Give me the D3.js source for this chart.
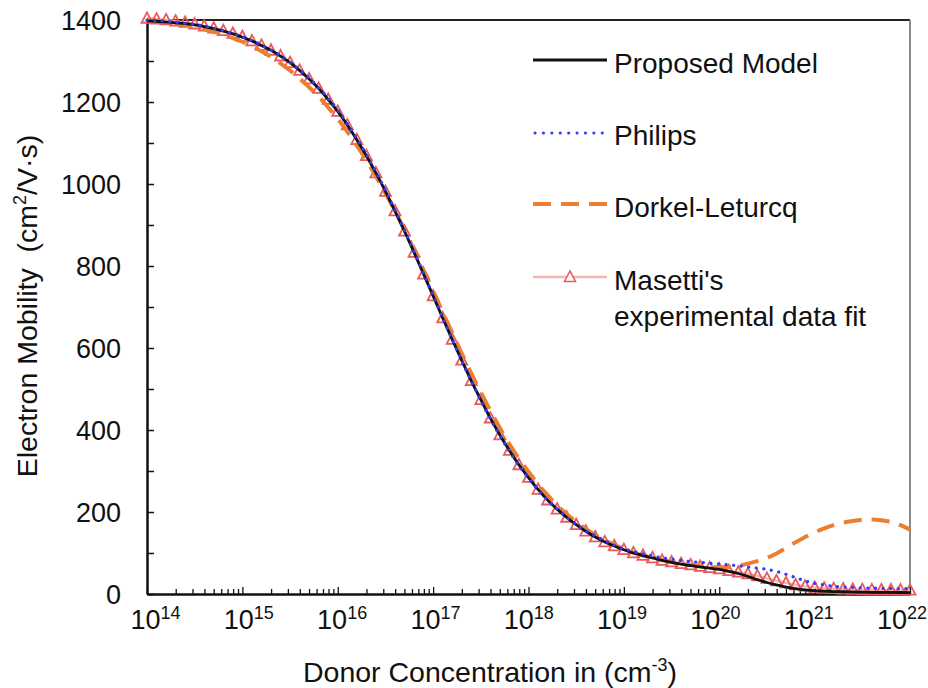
<!DOCTYPE html>
<html><head><meta charset="utf-8">
<script src="https://cdn.jsdelivr.net/npm/d3@7"></script>
<style>
html,body{margin:0;padding:0;background:#fff;}
svg{display:block;font-family:"Liberation Sans",Arial,Helvetica,sans-serif;}
</style></head>
<body><svg id="c" width="928" height="688"></svg>
<script>
// log10 of donor concentration (cm^-3)
const exps = [14.0,14.1,14.2,14.3,14.4,14.5,14.6,14.7,14.8,14.9,
15.0,15.1,15.2,15.3,15.4,15.5,15.6,15.7,15.8,15.9,
16.0,16.1,16.2,16.3,16.4,16.5,16.6,16.7,16.8,16.9,
17.0,17.1,17.2,17.3,17.4,17.5,17.6,17.7,17.8,17.9,
18.0,18.1,18.2,18.3,18.4,18.5,18.6,18.7,18.8,18.9,
19.0,19.1,19.2,19.3,19.4,19.5,19.6,19.7,19.8,19.9,
20.0,20.1,20.2,20.3,20.4,20.5,20.6,20.7,20.8,20.9,
21.0,21.1,21.2,21.3,21.4,21.5,21.6,21.7,21.8,21.9,22.0];

const proposed = [1398,1397,1395,1393,1391,1388,1384,1379,1373,1366,
1358,1349,1338,1326,1312,1296,1277,1256,1233,1206,
1177,1144,1108,1069,1027,982,934,885,833,780,
727,673,621,570,520,474,429,388,350,315,
284,255,229,207,187,169,153,139,127,117,
108,100,94,88,82,77,73,69,66,63,
60,55,50,43,35,28,22,17,13,10,
8,7,6,5.5,5,4.5,4.2,4,3.8,3.6,3.5];

const philips = [1400,1399,1397,1395,1392,1389,1385,1380,1374,1367,
1359,1350,1339,1327,1313,1297,1279,1258,1235,1209,
1180,1147,1111,1072,1030,985,937,887,835,782,
728,674,621,569,519,472,427,386,348,313,
282,254,229,207,187,170,155,142,130,119,
110,104,98,93,88,85,82,79,77,75,
73,71,69,66,63,60,55,48,40,32,
26,22,19,17,16,15,14.5,14,13.5,13,13];

const dorkel = [1400,1398,1395,1392,1388,1383,1377,1371,1364,1356,
1347,1336,1324,1310,1294,1277,1257,1236,1213,1187,
1159,1128,1094,1058,1019,978,934,888,839,789,
739,687,637,587,538,492,447,405,366,330,
298,268,241,217,195,176,159,144,131,120,
110,101,94,88,83,78,74,71,68,66,
65,66,69,74,80,88,99,112,126,139,
150,160,168,174,178,181,182,180,176,168,157];

const masetti = [1404,1402,1400,1397,1394,1390,1385,1380,1374,1367,
1359,1349,1338,1326,1312,1296,1277,1256,1233,1206,
1177,1144,1108,1069,1027,982,934,885,833,780,
727,673,621,570,520,474,429,388,350,315,
284,255,229,207,187,169,153,139,127,117,
108,100,94,88,82,78,74,71,67,64,
61,57,53,49,44,38,32,27,22,19,
16,14,13,12,11,10.5,10,9.8,9.6,9.5,9.4];

const xDecades = [14,15,16,17,18,19,20,21,22];
const yTicks = [0,100,200,300,400,500,600,700,800,900,1000,1100,1200,1300,1400];
const yLabels = [0,200,400,600,800,1000,1200,1400];
const seriesNames = ["Proposed Model","Philips","Dorkel-Leturcq","Masetti's","experimental data fit"];

const L = 147, R = 910, T = 20, B = 594;
const svg = d3.select("#c");
const x = d3.scaleLog().domain([1e14,1e22]).range([L,R]);
const y = d3.scaleLinear().domain([0,1400]).range([B,T]);
const FONT = 27;

const pts = arr => arr.map((v,i)=>[Math.pow(10,exps[i]), v]);
const line = d3.line().x(d=>x(d[0])).y(d=>y(d[1])).curve(d3.curveMonotoneX);

// frame: top (black) and right (gray)
svg.append("line").attr("x1",L).attr("x2",R).attr("y1",T).attr("y2",T).attr("stroke","#222").attr("stroke-width",2);
svg.append("line").attr("x1",R).attr("x2",R).attr("y1",T).attr("y2",B).attr("stroke","#8a8a8a").attr("stroke-width",2);

// X axis (ticks inward)
const minorX = [];
for (let d=14; d<22; d++) for (let m=1; m<10; m++) minorX.push(m*Math.pow(10,d));
minorX.push(1e22);
const xAxis = d3.axisBottom(x).tickValues(minorX).tickSizeInner(-5).tickSizeOuter(0).tickFormat("");
const gx = svg.append("g").attr("transform",`translate(0,${B})`).call(xAxis);
gx.select(".domain").attr("stroke","#111").attr("stroke-width",2.5);
gx.selectAll(".tick line").attr("stroke","#111").attr("stroke-width",1.3)
  .attr("y2", d => (Math.abs(Math.log10(d)-Math.round(Math.log10(d)))<1e-9) ? -7 : -5);

// x labels with superscripts
const labelScale = d3.scaleLinear().domain([14,22]).range([155.5,902]);
xDecades.forEach(e=>{
  const t = svg.append("text").attr("x",labelScale(e)).attr("y",629).attr("text-anchor","middle")
    .attr("font-size",FONT).attr("fill","#111");
  t.append("tspan").text("10");
  t.append("tspan").attr("font-size",18).attr("dy",-10).text(String(e));
});

// Y axis
const yAxis = d3.axisLeft(y).tickValues(yTicks).tickSizeInner(-7).tickSizeOuter(0).tickFormat("");
const gy = svg.append("g").attr("transform",`translate(${L},0)`).call(yAxis);
gy.select(".domain").attr("stroke","#111").attr("stroke-width",2.5);
gy.selectAll(".tick line").attr("stroke","#111").attr("stroke-width",1.5);
yLabels.forEach(v=>{
  svg.append("text").attr("x",121).attr("y",y(v)).attr("dy","0.36em").attr("text-anchor","end")
    .attr("font-size",FONT).attr("fill","#111").text(v);
});

// Axis titles
const xt = svg.append("text").attr("x",490).attr("y",682).attr("text-anchor","middle")
  .attr("font-size",28.5).attr("fill","#111");
xt.append("tspan").text("Donor Concentration in (cm");
xt.append("tspan").attr("font-size",18).attr("dy",-11).text("-3");
xt.append("tspan").attr("dy",11).text(")");

const yt = svg.append("text").attr("transform","translate(37,306) rotate(-90)").attr("text-anchor","middle")
  .attr("font-size",28.5).attr("fill","#111").style("white-space","pre");
yt.append("tspan").text("Electron Mobility  (cm");
yt.append("tspan").attr("font-size",18).attr("dy",-11).text("2");
yt.append("tspan").attr("dy",11).text("/V\u00b7s)");

// Series
const ORANGE = "#ED7D31", BLUE = "#2f3cff", PINK = "#f5b5b5", RED = "#e85a5c";
const triPath = (cx,cy,s) => `M${cx},${cy-s*0.55}L${cx+s/2},${cy+s*0.4}L${cx-s/2},${cy+s*0.4}Z`;

// Masetti line + triangles
svg.append("path").datum(pts(masetti)).attr("d",line).attr("fill","none").attr("stroke",PINK).attr("stroke-width",2.5);
svg.append("g").selectAll("path").data(pts(masetti)).join("path")
  .attr("d",d=>triPath(x(d[0]),y(d[1]),11)).attr("fill","none").attr("stroke",RED).attr("stroke-width",1.8);

// Dorkel-Leturcq
svg.append("path").datum(pts(dorkel)).attr("d",line).attr("fill","none").attr("stroke",ORANGE)
  .attr("stroke-width",4).attr("stroke-dasharray","18,10");
// Proposed
svg.append("path").datum(pts(proposed)).attr("d",line).attr("fill","none").attr("stroke","#111").attr("stroke-width",2.8);
// Philips
svg.append("path").datum(pts(philips)).attr("d",line).attr("fill","none").attr("stroke",BLUE)
  .attr("stroke-width",3.2).attr("stroke-linecap","round").attr("stroke-dasharray","0.1,7.5");

// Legend
const lg = svg.append("g");
const lx1 = 533, lx2 = 607, tx = 614;
lg.append("line").attr("x1",lx1).attr("x2",lx2).attr("y1",60).attr("y2",60).attr("stroke","#111").attr("stroke-width",3);
lg.append("line").attr("x1",lx1+2).attr("x2",lx2).attr("y1",133).attr("y2",133).attr("stroke",BLUE).attr("stroke-width",3)
  .attr("stroke-linecap","round").attr("stroke-dasharray","0.1,8.3");
lg.append("line").attr("x1",lx1).attr("x2",lx2).attr("y1",204).attr("y2",204).attr("stroke",ORANGE).attr("stroke-width",4)
  .attr("stroke-dasharray","18,10");
lg.append("line").attr("x1",lx1).attr("x2",lx2).attr("y1",277).attr("y2",277).attr("stroke",PINK).attr("stroke-width",2.5);
lg.append("path").attr("d",triPath(570,277,11)).attr("fill","#fff").attr("stroke",RED).attr("stroke-width",1.5);
const legY = [73,145,217,290,326];
seriesNames.forEach((n,i)=>{
  lg.append("text").attr("x",tx).attr("y",legY[i]).attr("font-size",28).attr("fill","#111").text(n);
});
</script></body></html>
